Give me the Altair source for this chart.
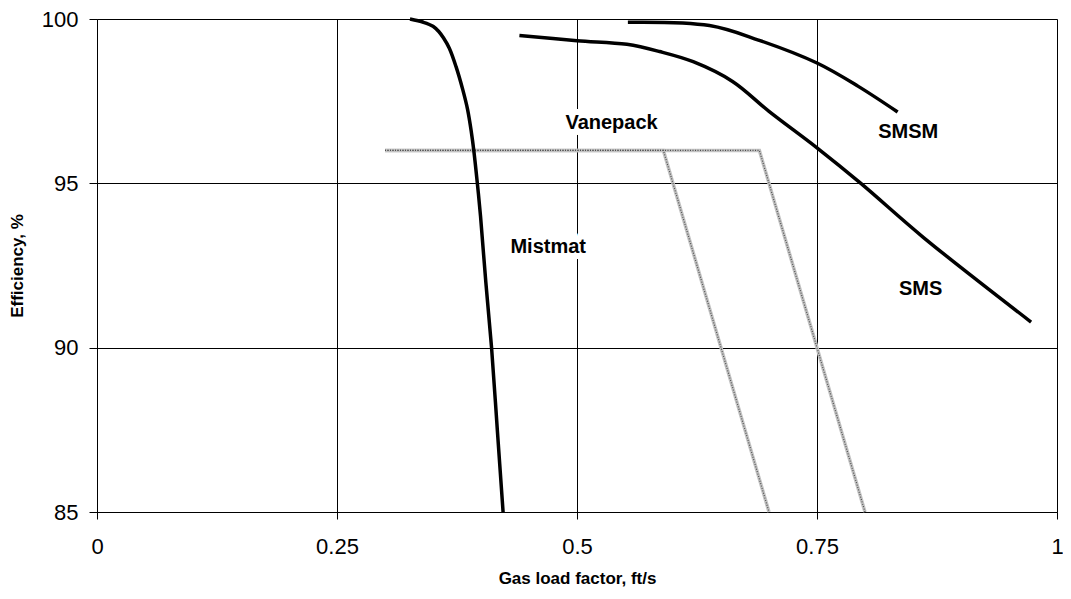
import altair as alt
import pandas as pd

# ---- data ----
mistmat_x = [0.326, 0.340, 0.350, 0.356, 0.361, 0.367, 0.374, 0.381, 0.386, 0.390, 0.3925, 0.3962, 0.3995, 0.405, 0.411, 0.417, 0.423]
mistmat_y = [100.0, 99.9, 99.78, 99.62, 99.42, 99.11, 98.55, 97.85, 97.25, 96.55, 96.0, 95.0, 94.0, 92.0, 90.0, 87.5, 85.0]

sms_x = [0.44, 0.50, 0.552, 0.586, 0.621, 0.662, 0.70, 0.75, 0.796, 0.861, 0.973]
sms_y = [99.5, 99.34, 99.23, 99.01, 98.7, 98.1, 97.19, 96.08, 94.99, 93.35, 90.78]

smsm_x = [0.553, 0.638, 0.689, 0.75, 0.793, 0.834]
smsm_y = [99.9, 99.8, 99.36, 98.66, 97.95, 97.17]

vane1_x = [0.30, 0.59, 0.70]
vane1_y = [96.0, 96.0, 85.0]
vane2_x = [0.30, 0.69, 0.80]
vane2_y = [96.0, 96.0, 85.0]

label_text = ["Vanepack", "Mistmat", "SMSM", "SMS"]
label_x = [0.536, 0.470, 0.845, 0.858]
label_y = [96.84, 93.06, 96.56, 91.8]

x_ticks = [0, 0.25, 0.5, 0.75, 1]
y_ticks = [85, 90, 95, 100]

FONT = "Liberation Sans"

def frame(name, xs, ys):
    return pd.DataFrame({"series": name, "x": xs, "y": ys, "order": range(len(xs))})

solid = pd.concat([frame("Mistmat", mistmat_x, mistmat_y),
                   frame("SMS", sms_x, sms_y),
                   frame("SMSM", smsm_x, smsm_y)])
vane = pd.concat([frame("Vane1", vane1_x, vane1_y),
                  frame("Vane2", vane2_x, vane2_y)])
labels = pd.DataFrame({"text": label_text, "x": label_x, "y": label_y})

xscale = alt.Scale(domain=[0, 1], nice=False, zero=False)
yscale = alt.Scale(domain=[85, 100], nice=False, zero=False)

xaxis = alt.Axis(values=x_ticks, title="Gas load factor, ft/s", grid=True,
                 gridColor="black", gridWidth=1, domainColor="black",
                 tickColor="black", tickSize=7, labelFont=FONT, labelFontSize=22,
                 labelColor="black", labelPadding=17, labelExpr="datum.value + ''",
                 titleFont=FONT, titleFontSize=17, titleFontWeight="bold",
                 titleColor="black", titlePadding=13, labelFlush=False)
yaxis = alt.Axis(values=y_ticks, title="Efficiency, %", grid=True,
                 gridColor="black", gridWidth=1, domainColor="black",
                 tickColor="black", tickSize=8, labelFont=FONT, labelFontSize=22,
                 labelColor="black", labelPadding=11, titleFont=FONT,
                 titleFontSize=17, titleFontWeight="bold", titleColor="black",
                 titlePadding=15, labelFlush=False)

base_x = alt.X("x:Q", scale=xscale, axis=xaxis)
base_y = alt.Y("y:Q", scale=yscale, axis=yaxis)

vane_under = alt.Chart(vane).mark_line(color="#c2c2c2", strokeWidth=3.5).encode(
    x=base_x, y=base_y, detail="series:N", order="order:Q")
vane_over = alt.Chart(vane).mark_line(color="#505050", strokeWidth=1.2, strokeDash=[1, 1.5]).encode(
    x="x:Q", y="y:Q", detail="series:N", order="order:Q")

curves = alt.Chart(solid).mark_line(color="black", strokeWidth=3.5, interpolate="catmull-rom").encode(
    x="x:Q", y="y:Q", detail="series:N", order="order:Q")

halo = alt.Chart(labels).mark_text(font=FONT, fontSize=20, fontWeight="bold",
                                   stroke="white", strokeWidth=12, color="white").encode(
    x="x:Q", y="y:Q", text="text:N")
text = alt.Chart(labels).mark_text(font=FONT, fontSize=20, fontWeight="bold", color="black").encode(
    x="x:Q", y="y:Q", text="text:N")

chart = alt.layer(vane_under, vane_over, curves, halo, text).properties(
    width=960, height=493,
    autosize=alt.AutoSizeParams(type="none"),
    padding={"left": 89, "top": 11, "right": 6, "bottom": 75},
).configure_view(stroke="black", strokeWidth=1.2).configure(background="white")

chart.save("out.html", embed_options={"renderer": "svg", "actions": False})
